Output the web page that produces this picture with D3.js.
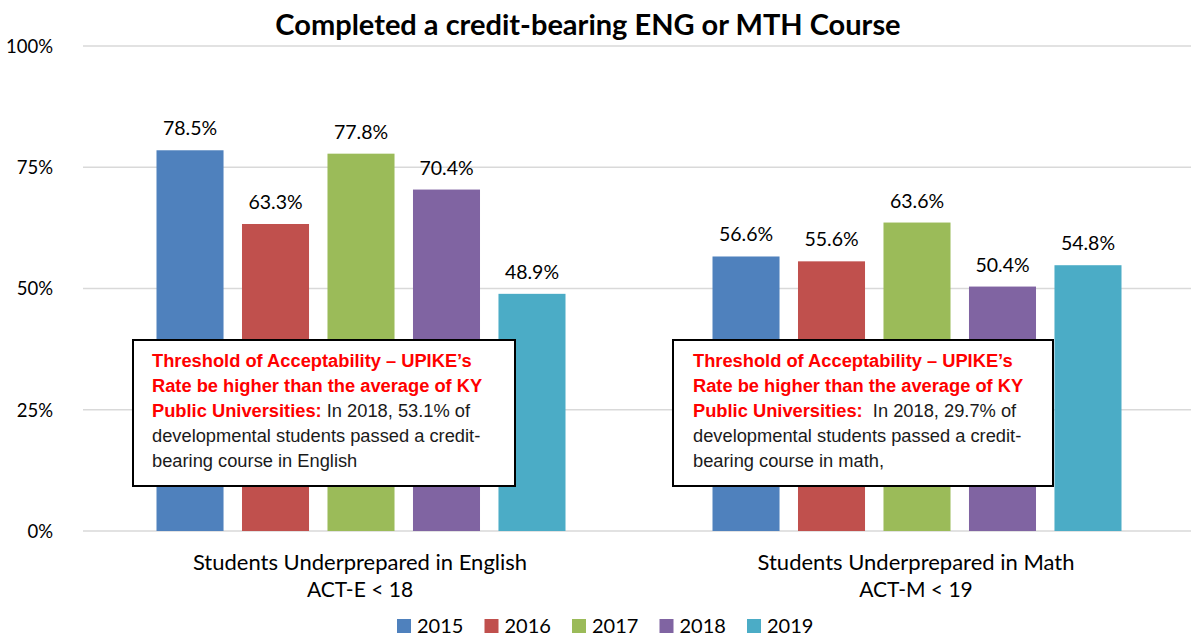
<!DOCTYPE html>
<html><head><meta charset="utf-8">
<script src="https://cdn.jsdelivr.net/npm/d3@7"></script>
<style>body{margin:0;background:#fff;} svg{display:block;}</style>
</head><body>
<svg id="c" width="1191" height="636"></svg>
<script>
const categories = ["English", "Math"];
const categoryLine1 = ["Students Underprepared in English", "Students Underprepared in Math"];
const categoryLine2 = ["ACT-E < 18", "ACT-M < 19"];
const years = ["2015", "2016", "2017", "2018", "2019"];
const colors = ["#4f81bd", "#c0504d", "#9bbb59", "#8064a2", "#4bacc6"];
const englishValues = [78.5, 63.3, 77.8, 70.4, 48.9];
const mathValues = [56.6, 55.6, 63.6, 50.4, 54.8];
const yTicks = [0, 25, 50, 75, 100];
const title = "Completed a credit-bearing ENG or MTH Course";
const notes = [
  {red: ["Threshold of Acceptability – UPIKE’s", "Rate be higher than the average of KY", "Public Universities:"], black3: " In 2018, 53.1% of", rest: ["developmental students passed a credit-", "bearing course in English"]},
  {red: ["Threshold of Acceptability – UPIKE’s", "Rate be higher than the average of KY", "Public Universities:"], black3: "  In 2018, 29.7% of", rest: ["developmental students passed a credit-", "bearing course in math,"]}
];

const values = [englishValues, mathValues];
const svg = d3.select("#c");
const W = 1191, H = 636;
const L = 83, R = 1195, T = 46, B = 531;

const x0 = d3.scaleBand().domain(categories).range([L, R]).padding(0);
const x1 = d3.scaleBand().domain(years).range([73.5, 482.5]).paddingInner(0.216).paddingOuter(0);
const y = d3.scaleLinear().domain([0, 100]).range([B, T]);

const font = "Lato, 'Open Sans', sans-serif";

// gridlines
svg.append("g").selectAll("line").data(yTicks).join("line")
  .attr("x1", L).attr("x2", W).attr("y1", d => y(d)).attr("y2", d => y(d))
  .attr("stroke", "#d9d9d9").attr("stroke-width", 1.5);

// y axis labels
const yAxis = d3.axisLeft(y).tickValues(yTicks).tickFormat(d => d + "%").tickSize(0).tickPadding(0);
const ya = svg.append("g").attr("transform", `translate(53,0)`).call(yAxis);
ya.select(".domain").remove();
ya.selectAll("text").attr("font-family", font).attr("font-size", 18.5).attr("fill", "#000").attr("dy", "0.35em");

// title
svg.append("text").attr("x", 588).attr("y", 35).attr("text-anchor", "middle")
  .attr("font-family", font).attr("font-weight", "bold").attr("font-size", 29).attr("fill", "#000").text(title);

// bars
const groups = svg.append("g").selectAll("g").data(categories).join("g")
  .attr("transform", d => `translate(${x0(d)},0)`);
groups.each(function(c, ci) {
  const g = d3.select(this);
  const data = years.map((yr, i) => ({yr, v: values[ci][i], i}));
  g.selectAll("rect").data(data).join("rect")
    .attr("x", d => x1(d.yr)).attr("width", x1.bandwidth())
    .attr("y", d => y(d.v)).attr("height", d => B - y(d.v))
    .attr("fill", d => colors[d.i]);
  g.selectAll("text.lbl").data(data).join("text").attr("class", "lbl")
    .attr("x", d => x1(d.yr) + x1.bandwidth() / 2).attr("y", d => y(d.v) - 15)
    .attr("text-anchor", "middle").attr("font-family", font).attr("font-size", 19.5).attr("fill", "#000")
    .text(d => d.v.toFixed(1) + "%");
});

// category labels
categories.forEach((c, i) => {
  const cx = x0(c) + x0.bandwidth() / 2 - 1;
  svg.append("text").attr("x", cx).attr("y", 570).attr("text-anchor", "middle")
    .attr("font-family", font).attr("font-size", 22).attr("fill", "#000").text(categoryLine1[i]);
  svg.append("text").attr("x", cx).attr("y", 597).attr("text-anchor", "middle")
    .attr("font-family", font).attr("font-size", 21).attr("fill", "#000").text(categoryLine2[i]);
});

// annotation boxes
const boxes = [{x: 133, y: 340, w: 382, h: 146, tx: 152}, {x: 673, y: 340, w: 380, h: 146, tx: 693}];
notes.forEach((n, i) => {
  const b = boxes[i];
  svg.append("rect").attr("x", b.x).attr("y", b.y).attr("width", b.w).attr("height", b.h)
    .attr("fill", "#fff").attr("stroke", "#000").attr("stroke-width", 2);
  const af = "'Liberation Sans', Arial, sans-serif";
  const base = b.y + 27, lh = 25;
  n.red.forEach((line, j) => {
    const t = svg.append("text").attr("x", b.tx).attr("y", base + j * lh)
      .attr("font-family", af).attr("font-size", 18.3);
    t.append("tspan").attr("font-weight", "bold").attr("fill", "#ff0000").text(line);
    if (j === 2) t.append("tspan").attr("fill", "#1a1a1a").attr("style", "white-space:pre").text(n.black3);
  });
  n.rest.forEach((line, j) => {
    svg.append("text").attr("x", b.tx).attr("y", base + (3 + j) * lh)
      .attr("font-family", af).attr("font-size", 18.3).attr("fill", "#1a1a1a").text(line);
  });
});

// legend
const lx = d3.scalePoint().domain(years).range([397, 747]);
const lg = svg.append("g").selectAll("g").data(years).join("g")
  .attr("transform", d => `translate(${lx(d)},0)`);
lg.append("rect").attr("x", 0).attr("y", 619).attr("width", 14).attr("height", 14)
  .attr("fill", (d, i) => colors[i]);
lg.append("text").attr("x", 20).attr("y", 633).attr("font-family", font).attr("font-size", 20)
  .attr("fill", "#000").text(d => d);
</script>
</body></html>
